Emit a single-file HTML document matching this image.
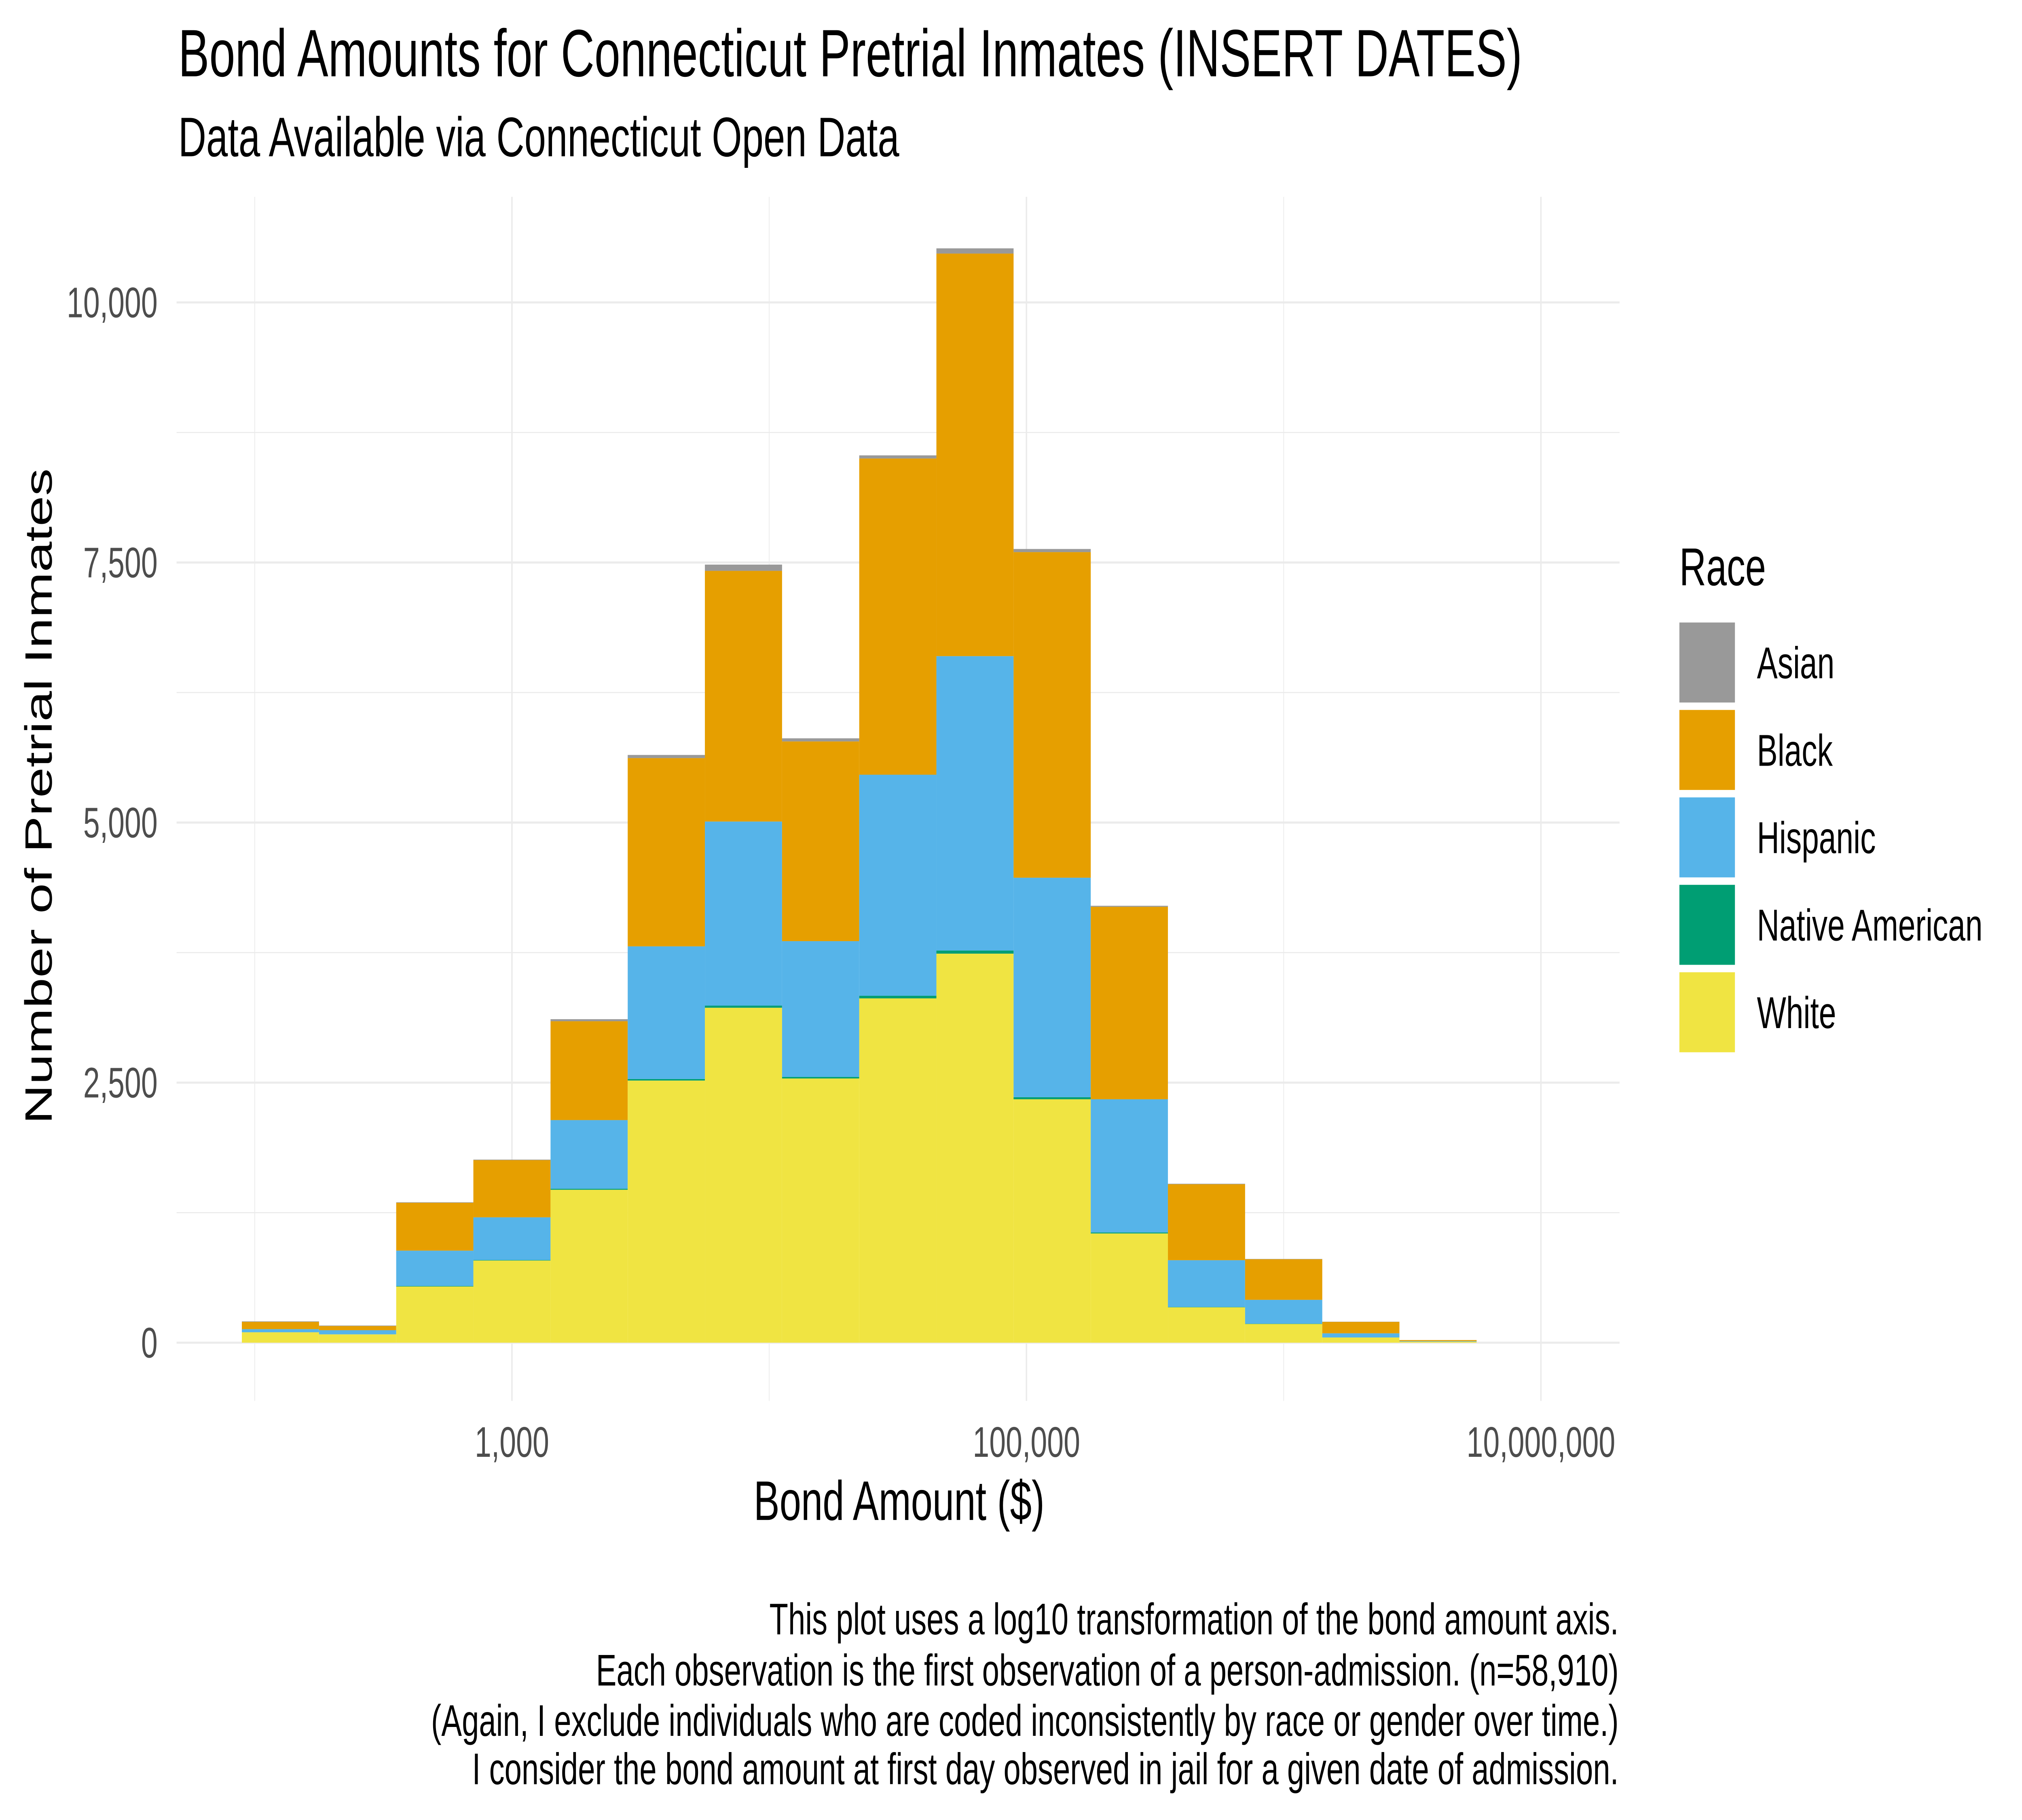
<!DOCTYPE html>
<html><head><meta charset="utf-8"><style>
html,body{margin:0;padding:0;background:#fff;width:100%;height:100%;overflow:hidden;}
svg{display:block;width:100vw;height:100vh;font-family:"Liberation Sans",Arial,sans-serif;}
</style></head><body>
<svg id="chart" xmlns="http://www.w3.org/2000/svg" viewBox="0 0 1565.217 978.261" preserveAspectRatio="none">
<rect width="1565.217" height="978.261" fill="#fff"/>
<g id="grid"></g>
<g id="bars"></g>
<g id="axes"></g>
<text x="138" y="41" font-size="36" fill="#000">Bond Amounts for Connecticut Pretrial Inmates (INSERT DATES)</text>
<text x="138" y="84" font-size="30" fill="#000">Data Available via Connecticut Open Data</text>
<text x="696" y="817" font-size="30" text-anchor="middle" fill="#000">Bond Amount ($)</text>
<text transform="translate(40,428) rotate(-90)" font-size="29.5" text-anchor="middle" fill="#000">Number of Pretrial Inmates</text>
<g font-size="23.8" text-anchor="end" fill="#000">
<text x="1253" y="878.5">This plot uses a log10 transformation of the bond amount axis.</text>
<text x="1253" y="906">Each observation is the first observation of a person-admission. (n=58,910)</text>
<text x="1253" y="933">(Again, I exclude individuals who are coded inconsistently by race or gender over time.)</text>
<text x="1253" y="959">I consider the bond amount at first day observed in jail for a given date of admission.</text>
</g>
<g id="legend">
<text x="1300" y="314.6" font-size="28.7" fill="#000">Race</text>
</g>
<script>
const binCenters = [2.1,2.4,2.7,3.0,3.3,3.6,3.9,4.2,4.5,4.8,5.1,5.4,5.7,6.0,6.3,6.6];
const white    = [100,80,540,790,1470,2520,3220,2540,3310,3740,2340,1050,340,180,50,10];
const native   = [0,0,5,5,10,15,20,15,25,30,20,10,3,2,0,0];
const hispanic = [30,40,340,410,660,1275,1770,1305,2125,2830,2110,1280,450,230,40,5];
const black    = [70,40,460,550,950,1810,2410,1920,3040,3870,3130,1850,730,390,110,10];
const asian    = [5,5,5,5,20,30,60,30,30,50,30,10,5,3,2,0];
const yTicks = [0,2500,5000,7500,10000];
const yTickLabels = ["0","2,500","5,000","7,500","10,000"];
const xTicks = [3,5,7];
const xTickLabels = ["1,000","100,000","10,000,000"];
const xMinor = [2,4,6];
const yMinor = [1250,3750,6250,8750];
const seriesNames = ["White","Native American","Hispanic","Black","Asian"];
const seriesColors = ["#F0E442","#009E73","#56B4E9","#E69F00","#999999"];

const NS="http://www.w3.org/2000/svg";
const PL=136.7, PR=1253.7, PT=105.8, PB=753;
const binW=0.3;
function xs(l){return 396.3+(l-3)*199.13;}
function ys(v){return 721.7-v*0.055913;}
function mk(tag,attrs,parent){const e=document.createElementNS(NS,tag);for(const k in attrs)e.setAttribute(k,attrs[k]);parent.appendChild(e);return e;}
const grid=document.getElementById('grid'), bars=document.getElementById('bars'), axes=document.getElementById('axes'), legend=document.getElementById('legend');
yMinor.forEach(v=>{const l=mk('line',{x1:PL,x2:PR,y1:ys(v),y2:ys(v),stroke:'#ebebeb','stroke-width':0.55},grid);

});
xMinor.forEach(v=>{const l=mk('line',{x1:xs(v),x2:xs(v),y1:PT,y2:PB,stroke:'#ebebeb','stroke-width':0.55},grid);

});
yTicks.forEach(v=>{const l=mk('line',{x1:PL,x2:PR,y1:ys(v),y2:ys(v),stroke:'#ebebeb','stroke-width':1.1},grid);

});
xTicks.forEach(v=>{const l=mk('line',{x1:xs(v),x2:xs(v),y1:PT,y2:PB,stroke:'#ebebeb','stroke-width':1.1},grid);

});
const series=[white,native,hispanic,black,asian];
binCenters.forEach((c,i)=>{let cum=0;
 series.forEach((s,j)=>{const v=s[i]; if(v<=0){return;}
  const r=mk('rect',{x:xs(c-binW/2),width:xs(c+binW/2)-xs(c-binW/2),y:ys(cum+v),height:ys(cum)-ys(cum+v),fill:seriesColors[j]},bars);
  
  
  cum+=v;});
});
yTicks.forEach((v,i)=>{const t=mk('text',{x:122,y:ys(v)+8,'font-size':23,'text-anchor':'end',fill:'#4d4d4d'},axes);t.textContent=yTickLabels[i];

});
xTicks.forEach((v,i)=>{const t=mk('text',{x:xs(v),y:783,'font-size':23,'text-anchor':'middle',fill:'#4d4d4d'},axes);t.textContent=xTickLabels[i];

});
const legOrder=[4,3,2,1,0];
legOrder.forEach((j,k)=>{const y=334.6+k*47;
 const r=mk('rect',{x:1300,y:y,width:43,height:43,fill:seriesColors[j]},legend);
 
 
 const t=mk('text',{x:1360,y:y+30,'font-size':24,fill:'#000'},legend);t.textContent=seriesNames[j];
 
 });
</script>
</svg>
</body></html>
